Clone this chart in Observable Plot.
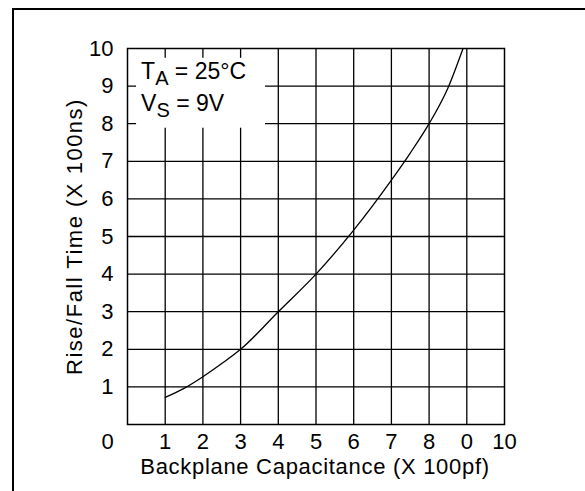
<!DOCTYPE html>
<html><head><meta charset="utf-8">
<script src="https://cdn.jsdelivr.net/npm/d3@7"></script>
<script src="https://cdn.jsdelivr.net/npm/@observablehq/plot@0.6"></script>
<style>
html,body{margin:0;padding:0;background:#fff;}
#page{position:relative;width:585px;height:491px;overflow:hidden;}
#border{position:absolute;left:12px;top:8px;width:700px;height:700px;border-top:2px solid #000;border-left:2px solid #000;box-sizing:border-box;}
#chart{position:absolute;left:0;top:0;}
</style></head><body>
<div id="page"><div id="border"></div><div id="chart"></div></div>
<script>
const xTicks = [1, 2, 3, 4, 5, 6, 7, 8, 9, 10];
const xTickLabels = ["1", "2", "3", "4", "5", "6", "7", "8", "0", "10"];
const yTicks = [1, 2, 3, 4, 5, 6, 7, 8, 9, 10];
const yTickLabels = ["1", "2", "3", "4", "5", "6", "7", "8", "9", "10"];
const gridX = [1, 2, 3, 4, 5, 6, 7, 8, 9];
const gridY = [1, 2, 3, 4, 5, 6, 7, 8, 9];
const cornerLabel = ["0"];
const capacitance = [1, 1.5, 2, 2.5, 3, 4, 5, 6, 7, 7.5, 8, 8.5, 8.9];
const riseFall = [0.72, 0.96, 1.27, 1.62, 2, 3, 4, 5.17, 6.5, 7.22, 8, 8.95, 10];
const xLabel = "Backplane Capacitance (X 100pf)";
const yLabel = "Rise/Fall Time (X 100ns)";
const legendMain = ["T", "V"];
const legendSub = ["A", "S"];
const legendRest = [" = 25°C", " = 9V"];
const legendX = [0.36, 0.36];
const legendY = [9.18, 8.33];
const legendBox = [{x1: 0.24, x2: 3.66, y1: 7.88, y2: 9.74}];

const curve = capacitance.map((c, i) => ({c, t: riseFall[i]}));
const font = "'Liberation Sans', Arial, Helvetica, sans-serif";

const svg = Plot.plot({
  width: 585,
  height: 491,
  marginLeft: 127,
  marginRight: 81,
  marginTop: 48,
  marginBottom: 67,
  style: {fontFamily: font, fontSize: "22px", background: "transparent", color: "#000"},
  x: {domain: [0, 10], label: null},
  y: {domain: [0, 10], label: null},
  marks: [
    Plot.ruleX(gridX, {stroke: "#000", strokeWidth: 1.3}),
    Plot.ruleY(gridY, {stroke: "#000", strokeWidth: 1.3}),
    Plot.rect(legendBox, {x1: "x1", x2: "x2", y1: "y1", y2: "y2", fill: "#fff"}),
    Plot.line(curve, {x: "c", y: "t", curve: "monotone-x", stroke: "#000", strokeWidth: 1.3}),
    Plot.text(legendMain, {x: (d, i) => legendX[i], y: (d, i) => legendY[i], text: d => d, textAnchor: "start", lineAnchor: "bottom", fontSize: 23}),
    Plot.frame({stroke: "#000", strokeWidth: 1.5}),
    Plot.axisX({ticks: xTicks, tickSize: 0, tickPadding: 9, tickFormat: d => xTickLabels[xTicks.indexOf(d)], label: null, fontSize: 22}),
    Plot.axisY({ticks: yTicks, tickSize: 0, tickPadding: 14, tickFormat: d => yTickLabels[yTicks.indexOf(d)], label: null, fontSize: 22}),
    Plot.text(cornerLabel, {x: 0, y: 0, text: d => d, dx: -20, dy: 17, fontSize: 22}),
    Plot.text([xLabel], {frameAnchor: "bottom", text: d => d, textAnchor: "middle", lineAnchor: "top", dy: 34, dx: -1, fontSize: 22}),
    Plot.text([yLabel], {frameAnchor: "left", text: d => d, textAnchor: "middle", rotate: -90, lineAnchor: "middle", dx: -53, fontSize: 22})
  ]
});

const s = d3.select(svg);
s.selectAll("text").filter(function() {
  return this.textContent === xLabel;
}).style("letter-spacing", "0.7px");
s.selectAll("text").filter(function() {
  return this.textContent === yLabel;
}).style("letter-spacing", "1.5px");

s.selectAll("text").filter(function() {
  return legendMain.includes(this.textContent);
}).each(function() {
  const i = legendMain.indexOf(this.textContent);
  const t = d3.select(this);
  t.style("white-space", "pre");
  t.text(null);
  t.append("tspan").text(legendMain[i]);
  t.append("tspan").attr("dy", 6).attr("font-size", 20).text(legendSub[i]);
  t.append("tspan").attr("dy", -6).text(legendRest[i]);
});

document.getElementById("chart").appendChild(svg);
</script>
</body></html>
